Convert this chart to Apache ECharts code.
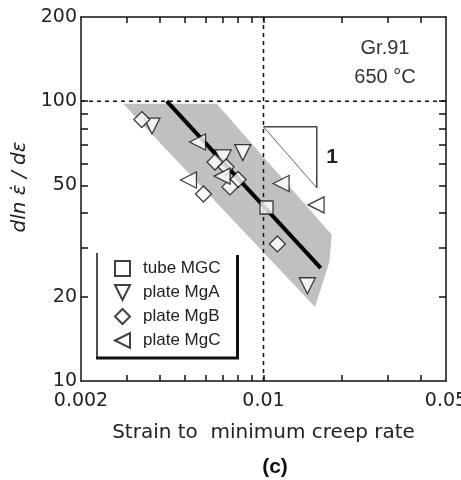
<!DOCTYPE html>
<html><head><meta charset="utf-8">
<script src="https://cdn.jsdelivr.net/npm/echarts@6/dist/echarts.min.js"></script>
<style>html,body{margin:0;padding:0;background:#fff}#c{width:461px;height:480px}</style>
</head><body><div id="c"></div>
<script>
// ---- data ----
const xTickLabels = [0.002, 0.01, 0.05];
const yTickLabels = [10, 20, 50, 100, 200];
const xMinorTicks = [0.003, 0.004, 0.005, 0.006, 0.007, 0.008, 0.009, 0.01, 0.02, 0.03, 0.04];
const yMinorTicks = [20, 30, 40, 50, 60, 70, 80, 90, 100];

const tubeMGC = [[0.01027, 41.7]];
const plateMgA = [[0.00374, 81.5], [0.00833, 65.5], [0.0070, 62.7], [0.01472, 21.9]];
const plateMgB = [[0.00342, 86.0], [0.00589, 46.6], [0.00652, 60.6], [0.00719, 58.2], [0.00799, 52.5], [0.00744, 49.4], [0.0113, 30.9]];
const plateMgC = [[0.00559, 71.5], [0.00516, 52.3], [0.00694, 54.0], [0.01168, 50.8], [0.0159, 42.6]];

const fitLine = [[0.00426, 100], [0.01657, 25.3]];
const bandX = [0.0029, 0.00662, 0.01826, 0.01788, 0.01576];
const bandY = [98, 98, 33.3, 26.7, 18.4];
const slopeTriangle = [[0.01, 81], [0.016, 81], [0.016, 49]];
const slopeHyp = [[0.01, 81], [0.016, 49]];
const xRange = [0.002, 0.05];
const yRange = [10, 200];
const refX = 0.01, refY = 100;

// ---- chart ----
const FONT = 'Liberation Sans, Arial, sans-serif';
const WIDE = 'DejaVu Sans, sans-serif';
const fmt = v => String(+(+v).toPrecision(6));
const axisLineStyle = {color: '#111', width: 1.5};
const DOWN_TRI = 'path://M0,0L10,0L5,10Z';
const LEFT_TRI = 'path://M0,5L10,0L10,10Z';

function xAxisCfg(pos, main) {
  return {
    type: 'log', logBase: 10, min: xRange[0], max: xRange[1], position: pos,
    axisLine: {show: true, onZero: false, lineStyle: axisLineStyle},
    axisTick: {show: true, inside: true, length: 6, customValues: xMinorTicks, lineStyle: axisLineStyle},
    minorTick: {show: false}, splitLine: {show: false},
    axisLabel: {show: main, customValues: xTickLabels, formatter: fmt, fontSize: 19, color: '#222', margin: 11, fontFamily: WIDE},
    name: main ? 'Strain to  minimum creep rate' : '', nameLocation: 'middle', nameGap: 42,
    nameTextStyle: {fontSize: 20, color: '#222', fontFamily: WIDE}
  };
}
function yAxisCfg(pos, main) {
  return {
    type: 'log', logBase: 10, min: yRange[0], max: yRange[1], position: pos,
    axisLine: {show: true, onZero: false, lineStyle: axisLineStyle},
    axisTick: {show: true, inside: true, length: 7, customValues: yMinorTicks, lineStyle: axisLineStyle},
    minorTick: {show: false}, splitLine: {show: false},
    axisLabel: {show: main, customValues: yTickLabels, formatter: fmt, fontSize: 19, color: '#222', margin: 4, fontFamily: WIDE},
    name: main ? 'dln \u03B5\u0307 / d\u03B5' : '', nameLocation: 'middle', nameGap: 46,
    nameTextStyle: {fontSize: 20, color: '#222', fontStyle: 'italic', fontFamily: WIDE, padding: [0, 0, 0, 24]}
  };
}

const markerStyle = {color: '#fff', borderColor: '#111', borderWidth: 1.3};
function scatter(name, data, symbol, rot, size) {
  return {type: 'scatter', name, data, symbol, symbolRotate: rot, symbolSize: size,
          itemStyle: markerStyle, z: 10, emphasis: {disabled: true}};
}

const chart = echarts.init(document.getElementById('c'), null, {renderer: 'canvas'});
chart.setOption({
  animation: false,
  backgroundColor: '#fff',
  textStyle: {fontFamily: FONT},
  grid: {left: 81, right: 15, top: 17, bottom: 99, outerBoundsMode: 'none'},
  title: {text: '(c)', left: 270, top: 452, textAlign: 'center',
          textStyle: {fontSize: 21, fontWeight: 'bold', color: '#111', fontFamily: FONT}},
  xAxis: [xAxisCfg('bottom', true), xAxisCfg('top', false)],
  yAxis: [yAxisCfg('left', true), yAxisCfg('right', false)],
  legend: {
    orient: 'vertical', left: 109, top: 255, itemWidth: 15, itemHeight: 15, itemGap: 7,
    selectedMode: false,
    textStyle: {fontSize: 17, color: '#222', fontFamily: FONT, lineHeight: 15, padding: [0, 0, 0, 8]},
    data: [
      {name: 'tube MGC', icon: 'rect'},
      {name: 'plate MgA', icon: DOWN_TRI},
      {name: 'plate MgB', icon: 'diamond'},
      {name: 'plate MgC', icon: LEFT_TRI}
    ]
  },
  graphic: [
    {type: 'line', shape: {x1: 97, y1: 253, x2: 97, y2: 358}, style: {stroke: '#111', lineWidth: 1.5}, z: 100},
    {type: 'line', shape: {x1: 96, y1: 358, x2: 239, y2: 358}, style: {stroke: '#111', lineWidth: 3}, z: 100},
    {type: 'line', shape: {x1: 237.5, y1: 255, x2: 237.5, y2: 359}, style: {stroke: '#111', lineWidth: 3}, z: 100},
    {type: 'text', style: {text: 'Gr.91', x: 385, y: 48, align: 'center', verticalAlign: 'middle', fontSize: 20, fill: '#333', fontFamily: FONT}, z: 100},
    {type: 'text', style: {text: '650 \u00B0C', x: 385, y: 77, align: 'center', verticalAlign: 'middle', fontSize: 20, fill: '#333', fontFamily: FONT}, z: 100},
    {type: 'text', style: {text: '1', x: 332, y: 157, align: 'center', verticalAlign: 'middle', fontSize: 21, fontWeight: 'bold', fill: '#222', fontFamily: FONT}, z: 100}
  ],
  series: [
    {
      type: 'custom', name: 'band', silent: true, z: 1,
      data: bandX.map((x, i) => [x, bandY[i]]),
      renderItem: function (params, api) {
        if (params.dataIndex !== 0) return null;
        const pts = bandX.map((x, i) => api.coord([x, bandY[i]]));
        return {type: 'polygon', shape: {points: pts}, style: {fill: '#c0c0c0', stroke: null}};
      }
    },
    {type: 'line', name: 'hRef', data: [[xRange[0], refY], [xRange[1], refY]], symbol: 'none', silent: true, z: 3,
     lineStyle: {color: '#111', width: 1.5, type: [4, 4]}},
    {type: 'line', name: 'vRef', data: [[refX, yRange[0]], [refX, yRange[1]]], symbol: 'none', silent: true, z: 3,
     lineStyle: {color: '#111', width: 1.5, type: [4, 4]}},
    {type: 'line', name: 'slope', data: slopeTriangle, symbol: 'none', silent: true, z: 3,
     lineStyle: {color: '#444', width: 1.5}},
    {type: 'line', name: 'slopeHyp', data: slopeHyp, symbol: 'none', silent: true, z: 3,
     lineStyle: {color: '#666', width: 1}},
    {type: 'line', name: 'fit', data: fitLine, symbol: 'none', silent: true, z: 5,
     lineStyle: {color: '#000', width: 4}},
    scatter('tube MGC', tubeMGC, 'rect', 0, 13),
    scatter('plate MgA', plateMgA, 'triangle', 180, 16),
    scatter('plate MgB', plateMgB, 'diamond', 0, 16),
    scatter('plate MgC', plateMgC, 'triangle', 90, 16)
  ]
});
</script></body></html>
